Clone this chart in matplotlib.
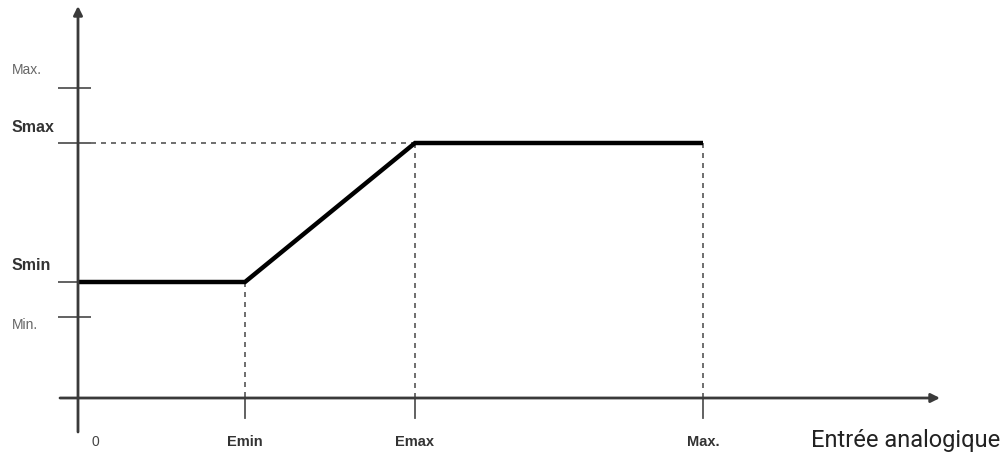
import matplotlib
matplotlib.use("Agg")
import matplotlib.pyplot as plt

# Schematic values (units)
x_points = [0, 167, 337, 625]          # 0, Emin, Emax, Max (input)
x_labels = ["0", "Emin", "Emax", "Max."]
y_min, y_smin, y_smax, y_max = 81, 116, 255, 310
curve_x = [0, 167, 337, 625]
curve_y = [116, 116, 255, 255]
y_tick_labels = ["Max.", "Smax", "Smin", "Min."]
y_tick_values = [310, 255, 116, 81]
x_axis_title = "Entrée analogique"

fig = plt.figure(figsize=(10, 4.54), dpi=100)
ax = fig.add_axes([0, 0, 1, 1])
ax.set_xlim(-78, 922)
ax.set_ylim(-56, 398)
ax.axis("off")

axis_col = "#3a3a3a"
# axes with arrows
ax.annotate("", xy=(0, 392), xytext=(0, -34),
            arrowprops=dict(arrowstyle="-|>", lw=2.0, color=axis_col, mutation_scale=13, shrinkA=0, shrinkB=0))
ax.annotate("", xy=(862, 0), xytext=(-18, 0),
            arrowprops=dict(arrowstyle="-|>", lw=2.0, color=axis_col, mutation_scale=13, shrinkA=0, shrinkB=0))

# y ticks
for v in y_tick_values:
    ax.plot([-20, 13], [v, v], color="#555555", lw=1.3, solid_capstyle="butt")

# dashed guide for Smax
ax.plot([13, curve_x[2]], [y_smax, y_smax], color="#555555", lw=1.2, ls=(0, (3, 3)))

# vertical dashed guides
for xv, yv in zip(curve_x[1:], curve_y[1:]):
    ax.plot([xv, xv], [yv, 0], color="#555555", lw=1.2, ls=(0, (3, 3)))
    ax.plot([xv, xv], [0, -20], color="#555555", lw=1.3)

# main curve
ax.plot(curve_x, curve_y, color="black", lw=3.2, solid_capstyle="butt", solid_joinstyle="miter")

# y labels
styles = {
    "Max.": dict(color="#666666", weight="normal", size=10),
    "Min.": dict(color="#666666", weight="normal", size=10),
    "Smax": dict(color="#333333", weight="bold", size=11.5),
    "Smin": dict(color="#333333", weight="bold", size=11.5),
}
y_offsets = {"Max.": 18, "Smax": 15, "Smin": 16, "Min.": -8}
for lab, v in zip(y_tick_labels, y_tick_values):
    st = styles[lab]
    ax.text(-66, v + y_offsets[lab], lab, ha="left", va="center",
            family="Liberation Sans", **st)

# x labels
for xv, lab in zip(x_points, x_labels):
    if lab == "0":
        ax.text(xv + 17, -44, lab, ha="center", va="center", family="Liberation Sans",
                color="#444444", size=10)
    else:
        ax.text(xv, -44, lab, ha="center", va="center", family="Liberation Sans",
                color="#333333", weight="bold", size=10.5)

ax.text(922, -43, x_axis_title, ha="right", va="center", family="Roboto",
        color="#222222", size=17)

fig.savefig("out.png", dpi=100)
